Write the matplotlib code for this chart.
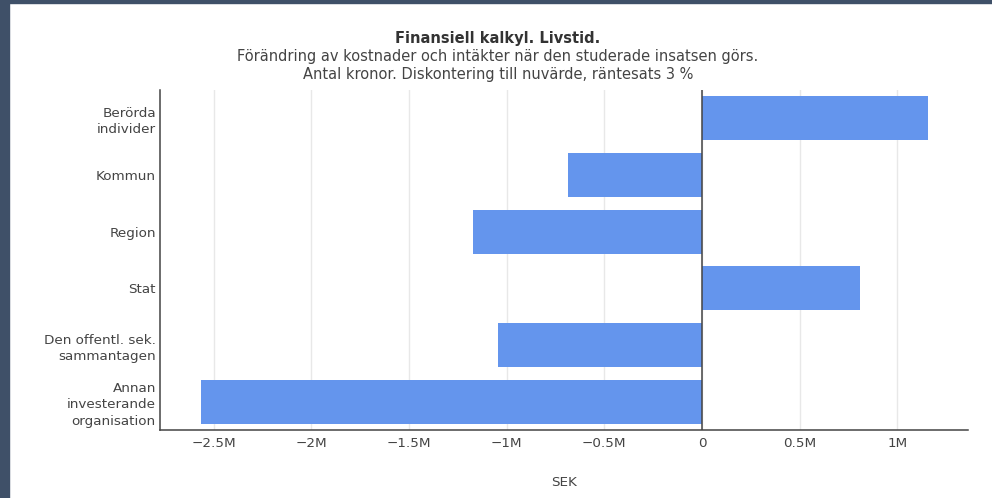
import numpy as np
import matplotlib.pyplot as plt
from matplotlib.patches import Rectangle
from matplotlib.ticker import FuncFormatter, MultipleLocator

categories = ["Berörda\nindivider", "Kommun", "Region", "Stat",
              "Den offentl. sek.\nsammantagen", "Annan\ninvesterande\norganisation"]
values = [1.157e6, -0.686e6, -1.17e6, 0.81e6, -1.046e6, -2.564e6]

title = "Finansiell kalkyl. Livstid."
subtitle = ("Förändring av kostnader och intäkter när den studerade insatsen görs.\n"
            "Antal kronor. Diskontering till nuvärde, räntesats 3 %")

plt.rcParams["font.family"] = "DejaVu Sans"
text_col = "#444444"
fs = 9.7

fig = plt.figure(figsize=(9.92, 4.98), dpi=100)
fig.patch.set_facecolor("white")
# dark frame on left and top edge
fig.patches.append(Rectangle((0, 0), 9 / 992, 1, transform=fig.transFigure,
                             color="#3f5068", zorder=10))
fig.patches.append(Rectangle((0, 1 - 3 / 498), 1, 3 / 498, transform=fig.transFigure,
                             color="#3f5068", zorder=10))

ax = fig.add_axes([160 / 992, 1 - 430 / 498, (968 - 160) / 992, (430 - 90) / 498])

y = np.arange(len(categories))
ax.barh(y, values, height=0.78, color="#6495ED", zorder=2)
ax.set_ylim(len(categories) - 0.5, -0.5)
ax.set_xlim(-2.774e6, 1.361e6)

ax.set_yticks(y)
ax.set_yticklabels(categories, fontsize=fs, color=text_col, linespacing=1.35)

def fmt(v, pos):
    if abs(v) < 1:
        return "0"
    s = "%g" % (abs(v) / 1e6)
    return ("\u2212" if v < 0 else "") + s + "M"

ax.xaxis.set_major_locator(MultipleLocator(0.5e6))
ax.xaxis.set_major_formatter(FuncFormatter(fmt))
ax.tick_params(axis="x", length=0, pad=5, labelsize=fs, labelcolor=text_col)
ax.tick_params(axis="y", length=0, pad=3)
ax.grid(axis="x", color="#e8e8e8", linewidth=1, zorder=0)
ax.axvline(0, color="#444444", linewidth=1.1, zorder=3)

for s in ["top", "right"]:
    ax.spines[s].set_visible(False)
for s in ["left", "bottom"]:
    ax.spines[s].set_color("#444444")
    ax.spines[s].set_linewidth(1.1)

ax.set_xlabel("SEK", fontsize=fs, color=text_col, labelpad=19)

fig.text(498 / 992, 1 - 39 / 498, title, ha="center", va="center",
         fontsize=10.5, fontweight="bold", color="#333333")
fig.text(498 / 992, 1 - 66 / 498, subtitle, ha="center", va="center",
         fontsize=10.5, color=text_col, linespacing=1.25)

fig.savefig("out.png", dpi=100, facecolor="white")
